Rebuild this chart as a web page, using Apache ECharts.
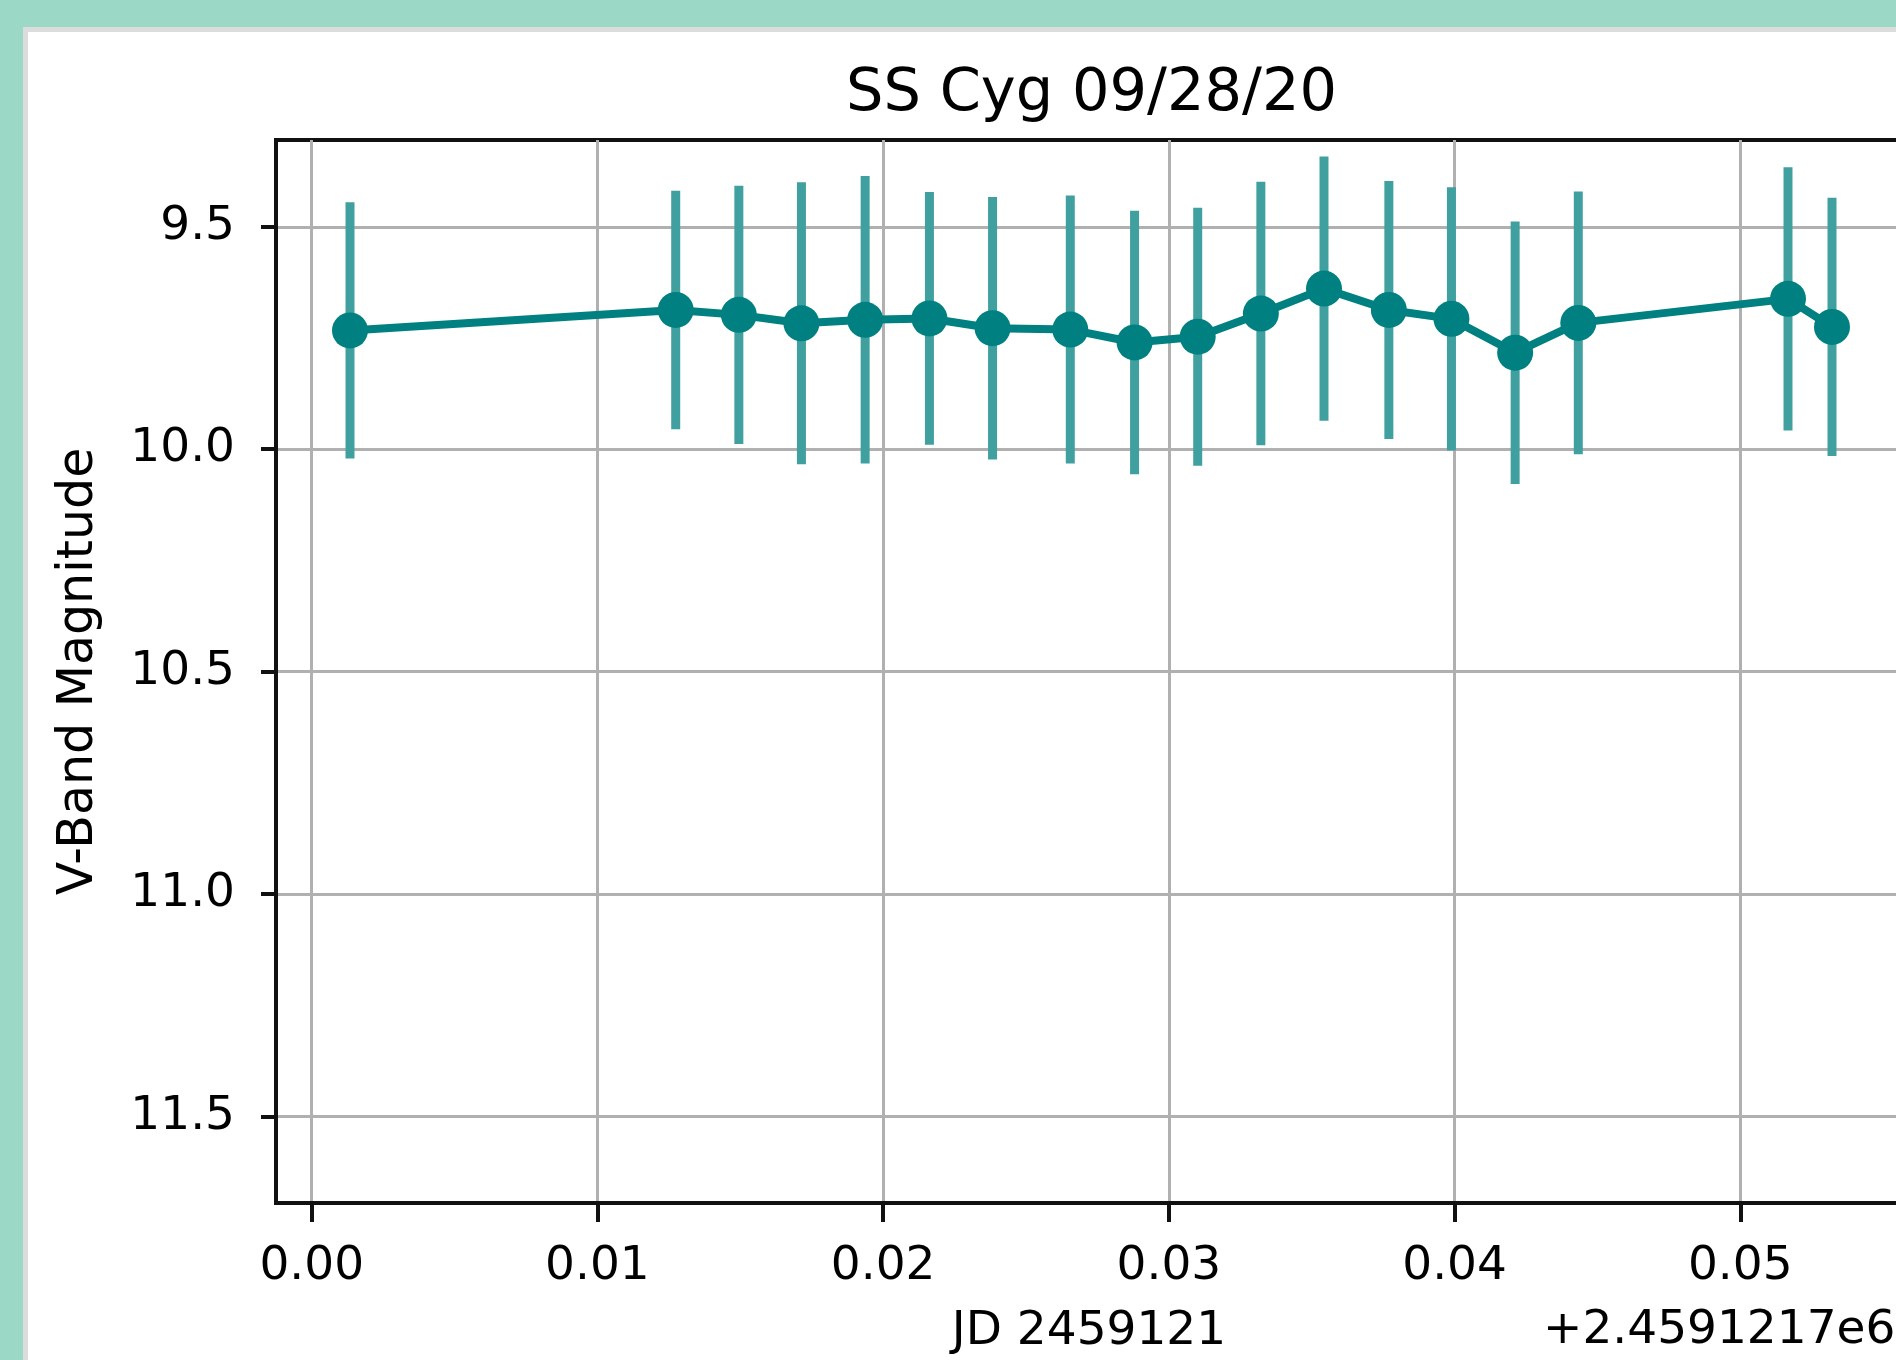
<!DOCTYPE html>
<html>
<head>
<meta charset="utf-8">
<script src="https://cdn.jsdelivr.net/npm/echarts@6/dist/echarts.min.js"></script>
<style>
html,body{margin:0;padding:0;width:1896px;height:1360px;overflow:hidden;background:#9bd8c6;}
#panel{position:absolute;left:23px;top:27px;width:1960px;height:1360px;background:#ffffff;border-left:5px solid #dcdcdc;border-top:5px solid #dcdcdc;}
#chart{position:absolute;left:0;top:0;width:1980px;height:1360px;}
</style>
</head>
<body>
<div id="panel"></div>
<div id="chart"></div>
<script>
// JD offsets (days, relative to +2.4591217e6)
const jdOffsets = [0.00134, 0.01274, 0.01495, 0.01714, 0.01937, 0.02162, 0.02383, 0.02655, 0.02880,
                   0.03101, 0.03322, 0.03543, 0.03770, 0.03989, 0.04212, 0.04433, 0.05167, 0.05321];
// V-band magnitudes
const magnitudes = [9.733, 9.687, 9.698, 9.717, 9.709, 9.706, 9.728, 9.731, 9.760,
                    9.747, 9.695, 9.639, 9.687, 9.707, 9.783, 9.716, 9.662, 9.725];
// magnitude uncertainties
const magErrors = [0.288, 0.268, 0.290, 0.317, 0.323, 0.284, 0.295, 0.301, 0.296,
                   0.290, 0.296, 0.297, 0.290, 0.296, 0.295, 0.295, 0.296, 0.290];
// tick labels
const xTicks = [0.00, 0.01, 0.02, 0.03, 0.04, 0.05];
const yTicks = [9.5, 10.0, 10.5, 11.0, 11.5];
const titleText = 'SS Cyg 09/28/20';
const xName = 'JD 2459121';
const yName = 'V-Band Magnitude';
const offsetText = '+2.4591217e6';

const FONT = '"DejaVu Sans", "Noto Sans", sans-serif';
const lineData = jdOffsets.map((x, i) => [x, magnitudes[i]]);
const errData = jdOffsets.map((x, i) => [x, magnitudes[i] - magErrors[i], magnitudes[i] + magErrors[i]]);

const chart = echarts.init(document.getElementById('chart'), null, {renderer: 'canvas'});
chart.setOption({
  animation: false,
  backgroundColor: 'transparent',
  title: {
    text: titleText,
    left: 846,
    top: 65,
    padding: 0,
    textStyle: {fontFamily: FONT, fontSize: 59, lineHeight: 59, fontWeight: 'normal', color: '#000'}
  },
  grid: {
    left: 276, top: 140, width: 1626, height: 1066,
    show: true, borderColor: '#111', borderWidth: 4, backgroundColor: 'transparent'
  },
  xAxis: {
    type: 'value',
    min: -0.00125, max: 0.05566,
    name: xName,
    nameLocation: 'middle',
    nameGap: 105,
    nameTextStyle: {fontFamily: FONT, fontSize: 47, color: '#000', lineHeight: 47},
    axisLine: {show: true, onZero: false, lineStyle: {color: '#111', width: 4}},
    axisTick: {show: true, customValues: xTicks, length: 19, lineStyle: {color: '#111', width: 4}},
    axisLabel: {customValues: xTicks, margin: 40, fontFamily: FONT, fontSize: 47, color: '#000',
                formatter: v => v.toFixed(2)},
    splitLine: {show: true, lineStyle: {color: '#b0b0b0', width: 3}}
  },
  yAxis: {
    type: 'value',
    inverse: true,
    min: 9.305, max: 11.694,
    name: yName,
    nameLocation: 'middle',
    nameGap: 172,
    nameTextStyle: {fontFamily: FONT, fontSize: 49, color: '#000', lineHeight: 49},
    axisLine: {show: true, onZero: false, lineStyle: {color: '#111', width: 4}},
    axisTick: {show: true, customValues: yTicks, length: 15, lineStyle: {color: '#111', width: 4}},
    axisLabel: {customValues: yTicks, margin: 41, fontFamily: FONT, fontSize: 47, color: '#000',
                formatter: v => v.toFixed(1)},
    splitLine: {show: true, lineStyle: {color: '#b0b0b0', width: 3}}
  },
  graphic: [{
    type: 'text',
    left: 1543,
    top: 1307,
    style: {text: offsetText, font: '47px ' + FONT, fill: '#000'}
  }],
  series: [
    {
      type: 'custom',
      name: 'errors',
      data: errData,
      encode: {x: 0, y: [1, 2]},
      z: 2,
      renderItem: function (params, api) {
        const x = api.value(0);
        const p1 = api.coord([x, api.value(1)]);
        const p2 = api.coord([x, api.value(2)]);
        return {
          type: 'line',
          shape: {x1: p1[0], y1: p1[1], x2: p2[0], y2: p2[1]},
          style: {stroke: '#40a0a0', lineWidth: 9}
        };
      }
    },
    {
      type: 'line',
      name: 'V',
      data: lineData,
      z: 3,
      symbol: 'circle',
      symbolSize: 36,
      lineStyle: {color: '#008080', width: 8},
      itemStyle: {color: '#008080'}
    }
  ]
});
</script>
</body>
</html>
